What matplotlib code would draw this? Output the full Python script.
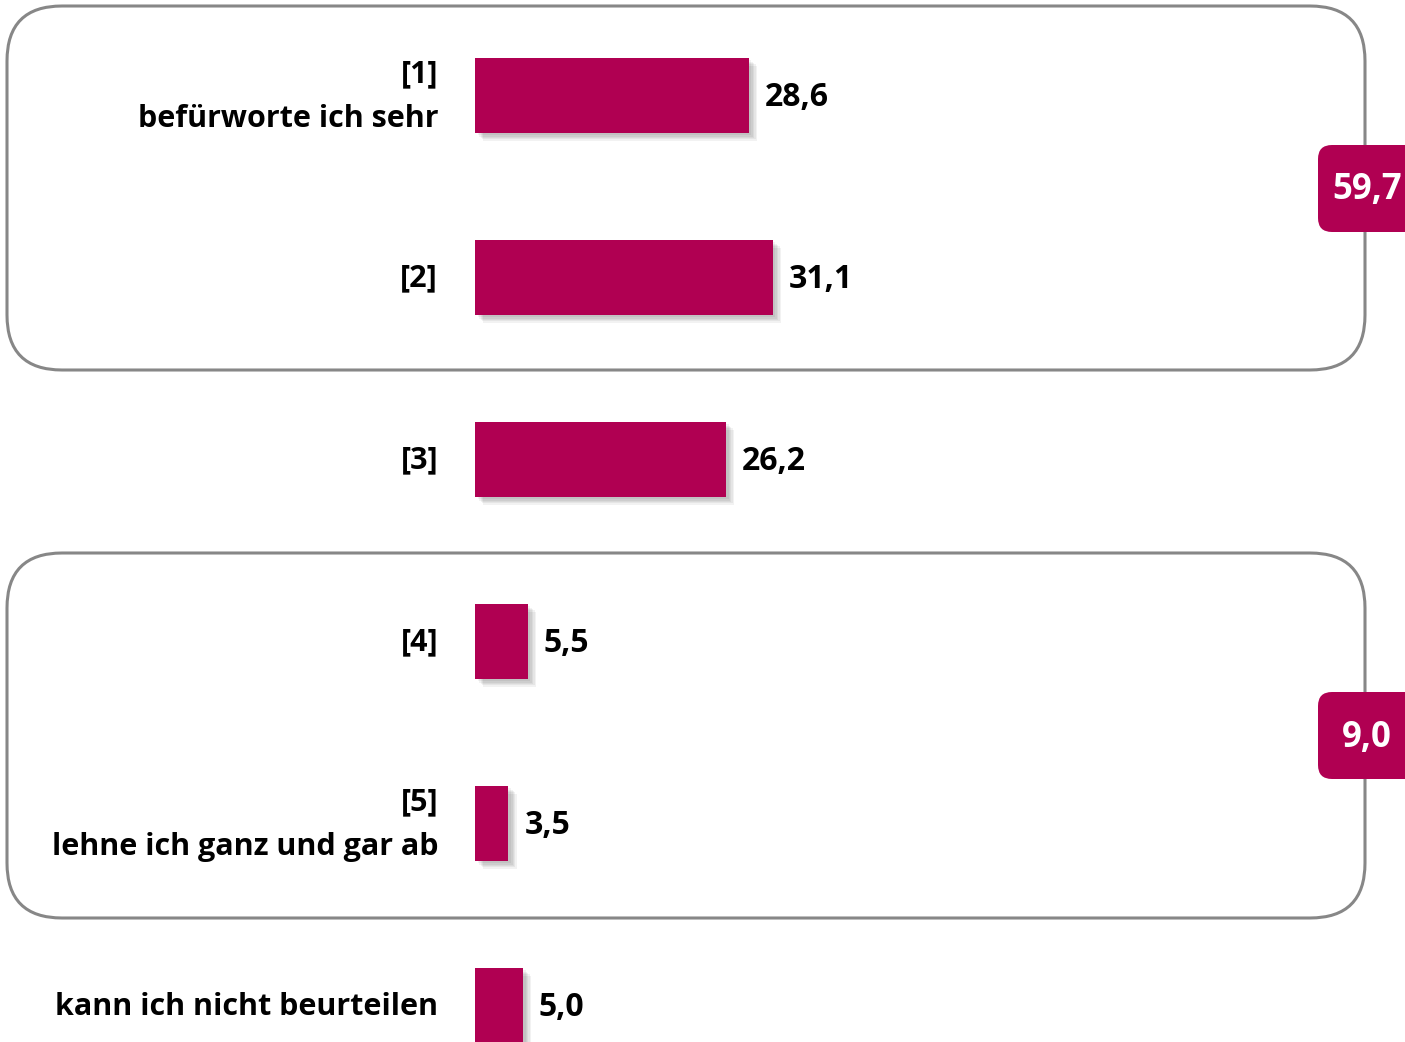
import matplotlib
matplotlib.use("Agg")
import matplotlib.pyplot as plt
from matplotlib.patches import FancyBboxPatch
import matplotlib.patheffects as pe

categories = ["[1]\nbefürworte ich sehr", "[2]", "[3]", "[4]",
              "[5]\nlehne ich ganz und gar ab", "kann ich nicht beurteilen"]
values = [28.6, 31.1, 26.2, 5.5, 3.5, 5.0]
value_labels = ["28,6", "31,1", "26,2", "5,5", "3,5", "5,0"]
group_labels = ["59,7", "9,0"]

BAR = "#B00052"
W, H = 1405, 1042
FONT = "Open Sans"

fig = plt.figure(figsize=(W / 100, H / 100), dpi=100)

# decoration axes in pixel coordinates
deco = fig.add_axes([0, 0, 1, 1])
deco.set_xlim(0, W)
deco.set_ylim(H, 0)
deco.axis("off")

for (y0, y1) in [(6, 370), (553, 918)]:
    r = 55
    box = FancyBboxPatch((7 + r, y0 + r), 1358 - 2 * r, (y1 - y0) - 2 * r,
                         boxstyle=f"round,pad={r}", fc="none", ec="#878787", lw=2.2)
    deco.add_patch(box)

for (y0, y1), txt in zip([(145, 232), (692, 779)], group_labels):
    r = 14
    b = FancyBboxPatch((1318 + r, y0 + r), 120 - 2 * r, (y1 - y0) - 2 * r,
                       boxstyle=f"round,pad={r}", fc=BAR, ec="none", zorder=5)
    deco.add_patch(b)
    deco.text(1367, (y0 + y1) / 2 + 2, txt, ha="center", va="center", color="white",
              fontsize=25, fontweight="bold", family=FONT, zorder=6)

# data axes
px_per_unit = 9.57
ax = fig.add_axes([0, 0, 1, 1])
ax.patch.set_alpha(0)
ax.set_xlim(-475 / px_per_unit, (W - 475) / px_per_unit)
ypos = list(range(len(values)))
ax.set_ylim((H - 95) / 182, -95 / 182)
ax.axis("off")

bars = ax.barh(ypos, values, height=75 / 182, color=BAR, zorder=3)
shadow = [pe.SimplePatchShadow(offset=(o, -o), shadow_rgbFace="#000000", alpha=0.05)
          for o in (2, 3, 4, 5, 6)]
for b in bars:
    b.set_path_effects(shadow + [pe.Normal()])

for y, v, lab in zip(ypos, values, value_labels):
    ax.text(v + 16 / px_per_unit, y + 0.015, lab, ha="left", va="center", fontsize=23,
            fontweight="bold", family=FONT, color="black")

for y, c in zip(ypos, categories):
    ax.text(-37 / px_per_unit, y + 0.01, c, ha="right", va="center", fontsize=22,
            fontweight="bold", family=FONT, color="black", linespacing=1.65,
            multialignment="right")

fig.savefig("out.png", dpi=100)
